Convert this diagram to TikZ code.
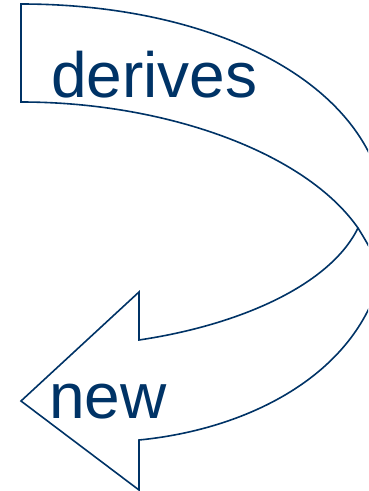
\documentclass[tikz,border=0pt]{standalone}
\usepackage{fontspec}
\setmainfont{Liberation Sans}
\usetikzlibrary{positioning}
\definecolor{navy}{RGB}{0,51,102}

\begin{document}
\begin{tikzpicture}[
  x=1pt, y=-1pt,
  outline/.style={draw=navy, line width=1.6pt, line join=miter},
  lbl/.style={anchor=base west, inner sep=0pt, text=navy, font=\fontsize{64}{64}\selectfont}
]
  \useasboundingbox (0,0) rectangle (368,491);
  \clip (0,0) rectangle (368,491);

  % corner points of the curved arrow
  \coordinate (tailtop) at (21,4);
  \coordinate (tailbot) at (21,102);
  \coordinate (rim) at (387,228);
  \coordinate (cross) at (358,228);
  \coordinate (innerend) at (374,256);
  \coordinate (neckout) at (139,440);
  \coordinate (barbdown) at (139,490);
  \coordinate (tip) at (21,401);
  \coordinate (barbup) at (139,292);
  \coordinate (neckin) at (139,340);

  % arrow outline
  \draw[outline] (tailbot) -- (tailtop)
    .. controls (220,4) and (387,88) .. (rim)
    .. controls (387,360) and (262,428) .. (neckout)
    -- (barbdown) -- (tip) -- (barbup) -- (neckin)
    .. controls (240,325) and (330,285) .. (cross)
    .. controls (305,152) and (165,102) .. (tailbot) -- cycle;
  \draw[outline] (cross) .. controls (363,236) and (369,246) .. (innerend);

  \node[lbl] (derives) at (51,97) {derives};
  \node[lbl] (new) at (49,418) {new};
\end{tikzpicture}
\end{document}
